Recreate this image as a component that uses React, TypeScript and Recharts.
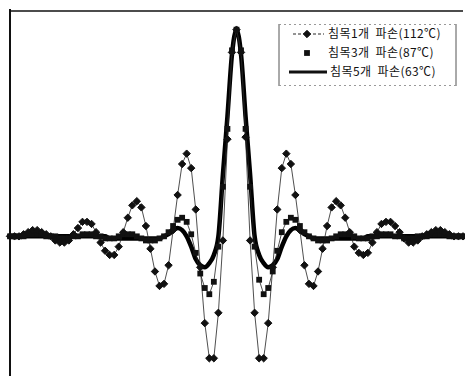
import React from 'react';
import { LineChart, Line, XAxis, YAxis, ReferenceLine, Legend } from 'recharts';

// sample positions (index around the centre of the wave)
const positions = Array.from({ length: 101 }, (_, i) => i - 50);

// 침목1개 파손 (112℃)
const broken1 = [
  0.00, 0.00, 0.00, 0.01, 0.02, 0.03, 0.03, 0.02, 0.01, 0.00,
  -0.02, -0.03, -0.03, -0.02, 0.01, 0.04, 0.07, 0.07, 0.06, 0.02,
  -0.03, -0.07, -0.09, -0.09, -0.05, 0.02, 0.09, 0.15, 0.17, 0.14,
  0.05, -0.06, -0.17, -0.24, -0.23, -0.14, 0.03, 0.20, 0.35, 0.40,
  0.33, 0.13, -0.15, -0.42, -0.59, -0.59, -0.37, -0.02, 0.47, 0.89,
  1.00,
  0.89, 0.48, -0.02, -0.37, -0.59, -0.59, -0.42, -0.15, 0.13, 0.33,
  0.40, 0.35, 0.20, 0.03, -0.14, -0.23, -0.24, -0.17, -0.06, 0.05,
  0.14, 0.17, 0.15, 0.09, 0.02, -0.05, -0.08, -0.09, -0.08, -0.03,
  0.02, 0.06, 0.07, 0.07, 0.05, 0.02, -0.01, -0.03, -0.03, -0.02,
  0.00, 0.01, 0.02, 0.03, 0.03, 0.02, 0.01, 0.00, 0.00, 0.00,
];

// 침목3개 파손 (87℃)
const broken3 = [
  0.00, 0.00, 0.00, 0.00, 0.01, 0.01, 0.01, 0.01, 0.00, 0.00,
  0.00, -0.01, -0.01, -0.01, 0.00, 0.00, 0.01, 0.01, 0.01, 0.00,
  0.00, -0.01, -0.01, -0.01, 0.00, 0.01, 0.01, 0.01, 0.00, -0.01,
  -0.02, -0.02, -0.02, -0.01, 0.00, 0.02, 0.05, 0.08, 0.09, 0.07,
  0.01, -0.08, -0.18, -0.25, -0.28, -0.22, -0.05, 0.24, 0.52, 0.90,
  1.00,
  0.90, 0.52, 0.24, -0.05, -0.21, -0.28, -0.25, -0.17, -0.07, 0.02,
  0.07, 0.09, 0.08, 0.05, 0.02, 0.00, -0.01, -0.02, -0.02, -0.02,
  -0.01, 0.00, 0.01, 0.01, 0.01, 0.00, -0.01, -0.01, -0.01, 0.00,
  0.00, 0.01, 0.01, 0.01, 0.00, 0.00, -0.01, -0.01, -0.01, 0.00,
  0.00, 0.00, 0.01, 0.01, 0.01, 0.01, 0.00, 0.00, 0.00, 0.00,
];

// 침목5개 파손 (63℃)
const broken5 = [
  0.00, 0.00, 0.00, 0.00, 0.00, 0.00, 0.00, 0.00, 0.00, 0.00,
  0.00, 0.00, 0.00, 0.00, 0.00, 0.00, 0.00, 0.00, 0.00, 0.00,
  0.00, 0.00, -0.01, -0.01, -0.01, -0.01, -0.01, -0.01, -0.01, -0.01,
  -0.01, -0.01, -0.01, -0.01, 0.00, 0.01, 0.03, 0.04, 0.03, 0.00,
  -0.05, -0.11, -0.14, -0.15, -0.13, -0.09, 0.00, 0.30, 0.58, 0.88,
  1.00,
  0.88, 0.58, 0.30, 0.00, -0.09, -0.13, -0.15, -0.14, -0.11, -0.05,
  0.00, 0.03, 0.04, 0.03, 0.01, 0.00, -0.01, -0.01, -0.01, -0.01,
  -0.01, -0.01, -0.01, -0.01, -0.01, -0.01, -0.01, -0.01, 0.00, 0.00,
  0.00, 0.00, 0.00, 0.00, 0.00, 0.00, 0.00, 0.00, 0.00, 0.00,
  0.00, 0.00, 0.00, 0.00, 0.00, 0.00, 0.00, 0.00, 0.00, 0.00,
];

const legendLabels = ['침목1개  파손(112℃)', '침목3개  파손(87℃)', '침목5개  파손(63℃)'];

const data = positions.map((x, i) => ({
  x,
  s1: broken1[i],
  s3: broken3[i],
  s5: broken5[i],
}));

const INK = '#111';

function Diamond(props: any) {
  const { cx, cy, index } = props;
  if (cx == null || cy == null) return null;
  const r = 3.7;
  return (
    <path
      key={`d-${index}`}
      d={`M${cx},${cy - r}L${cx + r},${cy}L${cx},${cy + r}L${cx - r},${cy}Z`}
      fill={INK}
      stroke={INK}
      strokeWidth={1}
      strokeLinejoin="round"
    />
  );
}

function Square(props: any) {
  const { cx, cy, index } = props;
  if (cx == null || cy == null) return null;
  return <rect key={`s-${index}`} x={cx - 2.9} y={cy - 2.9} width={5.8} height={5.8} fill={INK} />;
}

function LegendBox() {
  const font = '"Noto Sans CJK KR", "Noto Sans", sans-serif';
  const textStyle = { whiteSpace: 'pre' as const };
  return (
    <svg width={180} height={62} style={{ display: 'block' }}>
      <rect x={0} y={0} width={180} height={62} fill="#fff" />
      <line x1={1} y1={0} x2={1} y2={62} stroke="#555" strokeWidth={1} />
      <line x1={178} y1={0} x2={178} y2={62} stroke="#555" strokeWidth={1} />
      <line x1={1} y1={0.5} x2={178} y2={0.5} stroke="#999" strokeDasharray="2 3" />
      <line x1={1} y1={61.5} x2={178} y2={61.5} stroke="#999" strokeDasharray="2 3" />

      <line x1={15} y1={10} x2={46} y2={10} stroke={INK} strokeWidth={0.9} strokeDasharray="3 2" />
      <Diamond cx={29} cy={10} index={0} />
      <text x={50} y={14} fontFamily={font} fontSize={12} letterSpacing={0.4} fill={INK} style={textStyle}>
        {legendLabels[0]}
      </text>

      <Square cx={29} cy={29} index={1} />
      <text x={50} y={33} fontFamily={font} fontSize={12} letterSpacing={0.4} fill={INK} style={textStyle}>
        {legendLabels[1]}
      </text>

      <line x1={11} y1={48} x2={49} y2={48} stroke={INK} strokeWidth={3} />
      <text x={52} y={52} fontFamily={font} fontSize={12} letterSpacing={0.4} fill={INK} style={textStyle}>
        {legendLabels[2]}
      </text>
    </svg>
  );
}

export default function App() {
  return (
    <div
      style={{
        position: 'fixed',
        left: 0,
        top: 0,
        width: 465,
        height: 376,
        overflow: 'hidden',
        background: '#fff',
      }}
    >
      <LineChart width={465} height={390} data={data} margin={{ top: 9, right: 2, left: 10, bottom: 9 }}>
        <XAxis type="number" dataKey="x" domain={[-50, 50]} hide />
        <YAxis type="number" domain={[-0.7, 1.1]} hide />
        <ReferenceLine x={-50} stroke={INK} strokeWidth={2} />
        <ReferenceLine y={1.09} stroke={INK} strokeWidth={1.5} />
        <Line
          type="monotone"
          dataKey="s5"
          stroke="#000"
          strokeWidth={4.5}
          dot={false}
          isAnimationActive={false}
        />
        <Line
          type="linear"
          dataKey="s3"
          stroke="#222"
          strokeWidth={0.8}
          dot={<Square />}
          isAnimationActive={false}
        />
        <Line
          type="linear"
          dataKey="s1"
          stroke="#222"
          strokeWidth={0.8}
          dot={<Diamond />}
          isAnimationActive={false}
        />
        <Legend
          layout="horizontal"
          verticalAlign="middle"
          align="center"
          wrapperStyle={{ left: 278, top: 24, width: 180, height: 62 }}
          content={() => <LegendBox />}
        />
      </LineChart>
    </div>
  );
}
